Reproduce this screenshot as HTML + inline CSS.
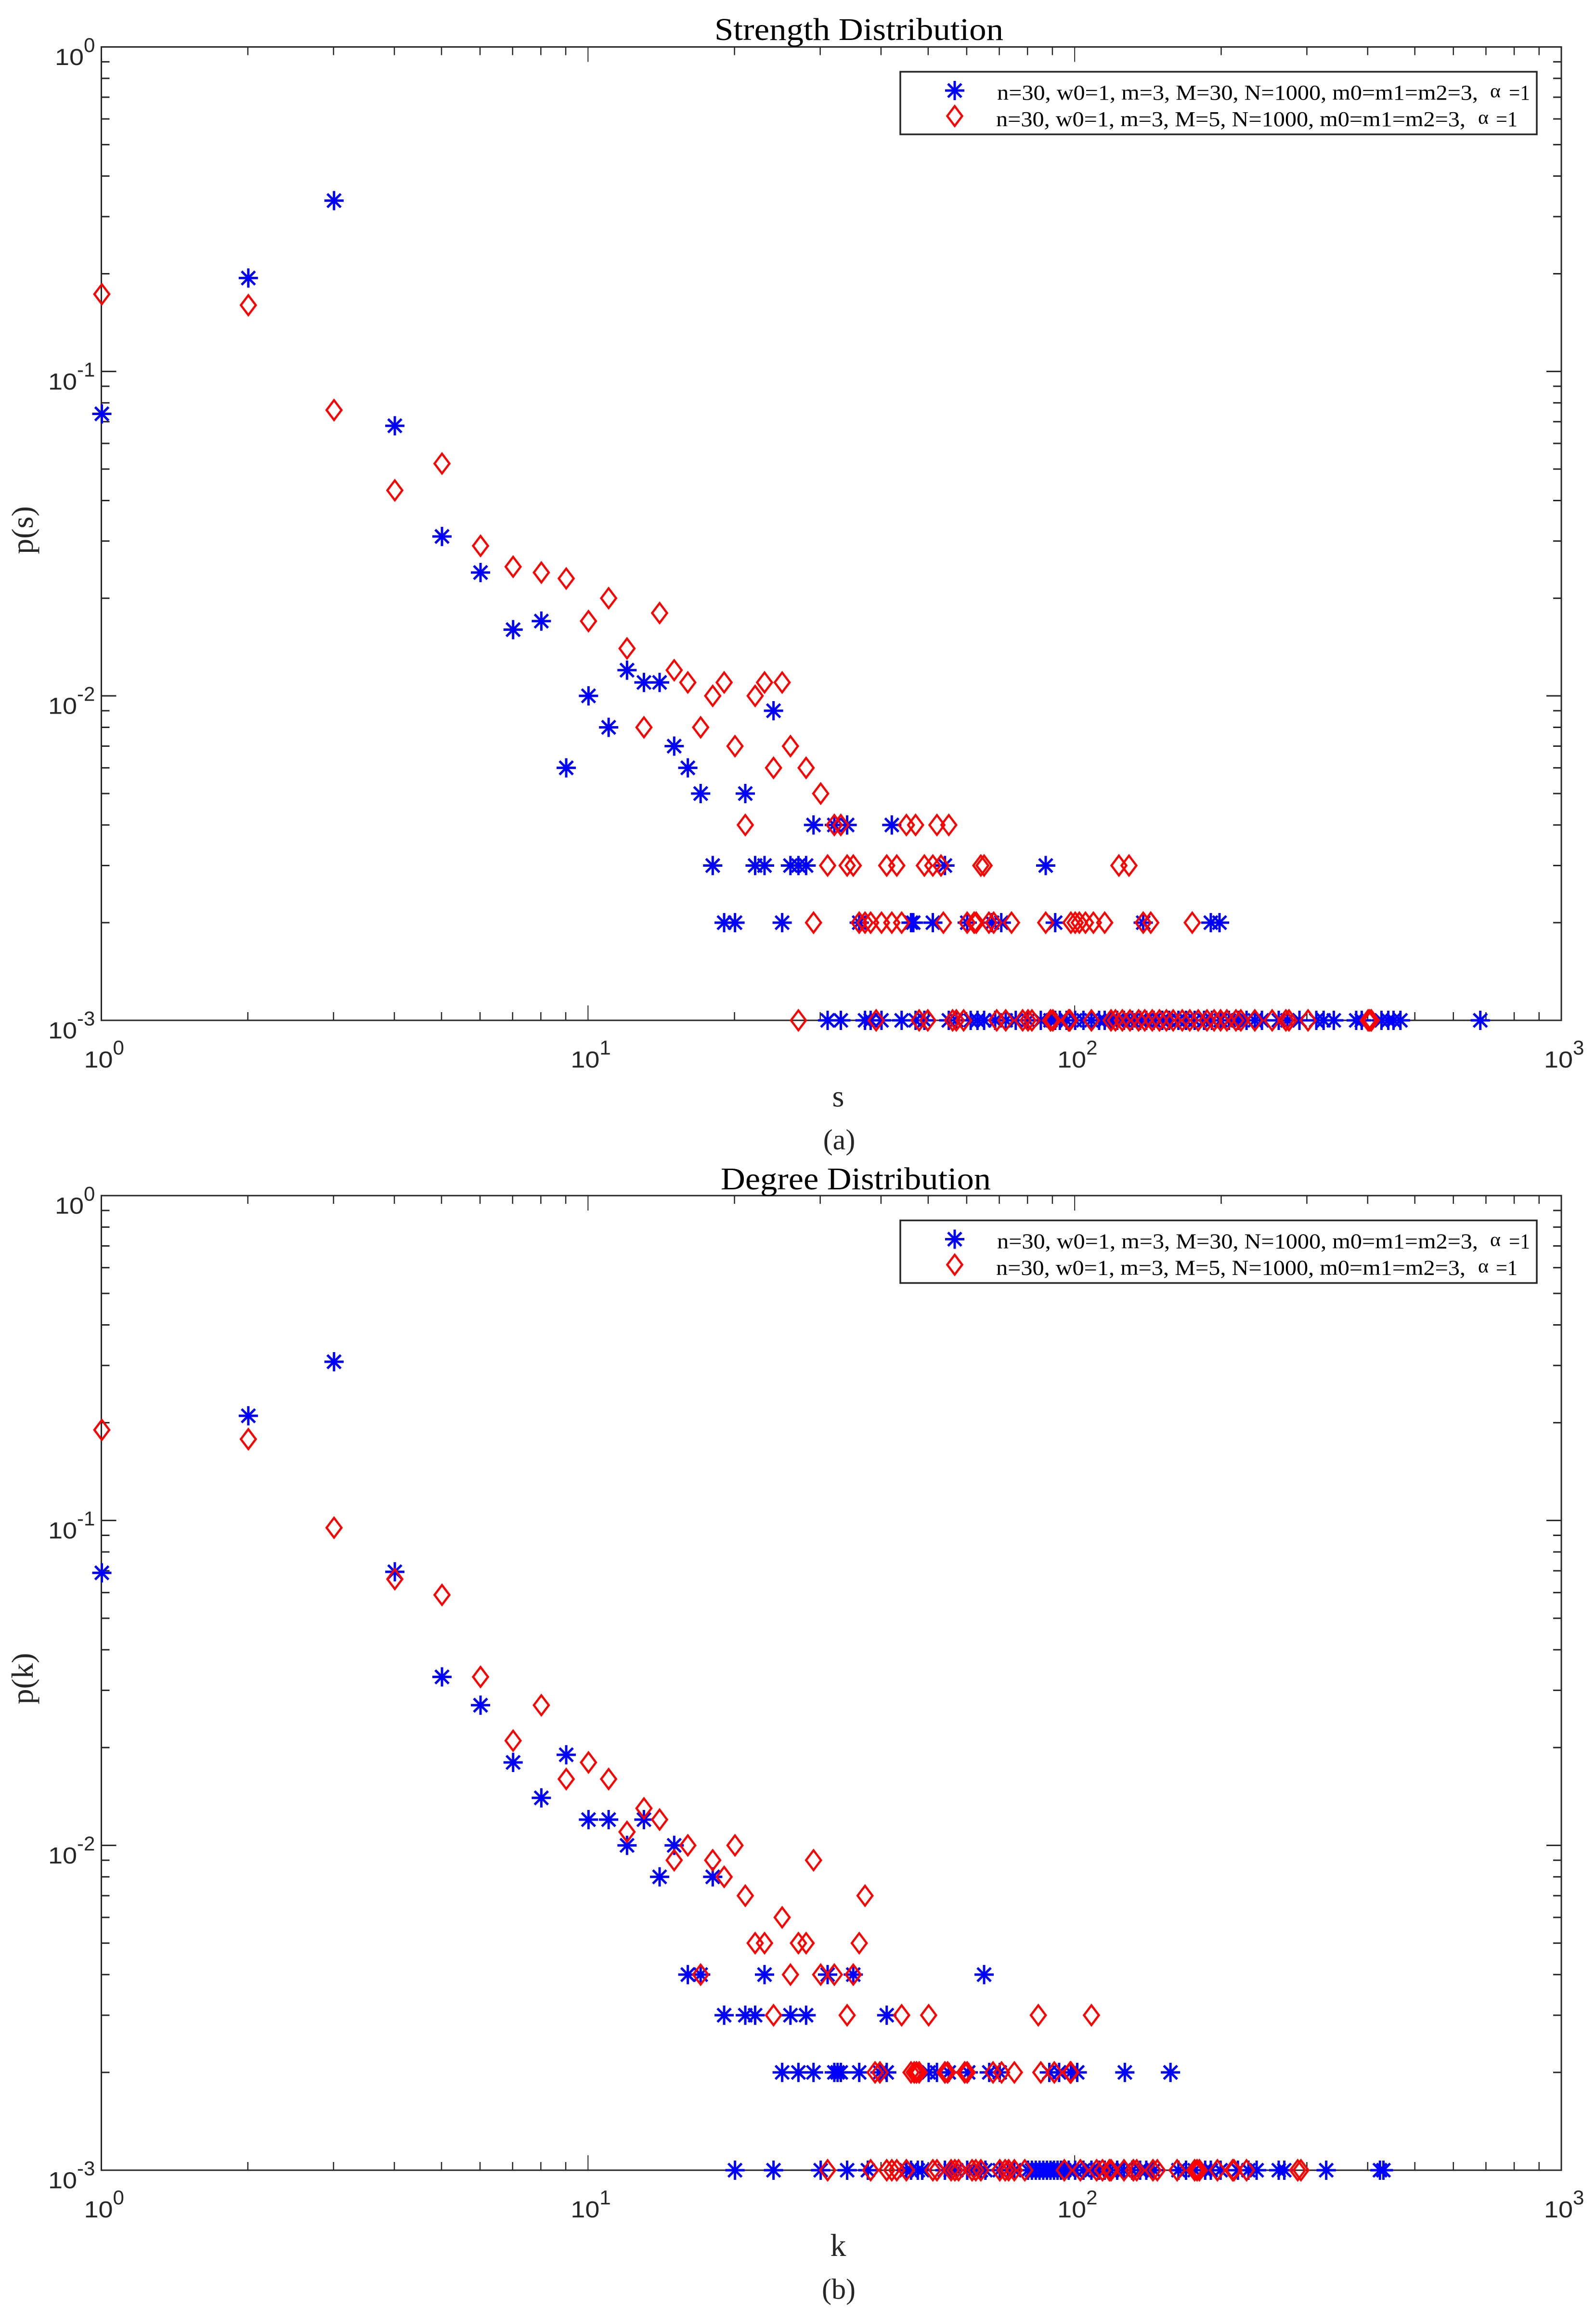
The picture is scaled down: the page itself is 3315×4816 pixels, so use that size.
<!DOCTYPE html>
<html lang="en">
<head>
<meta charset="utf-8">
<title>Strength and Degree Distribution</title>
<style>
html,body{margin:0;padding:0;background:#fff;}
svg{display:block;}
.serif{font-family:"Liberation Serif","Noto Serif CJK SC",serif;}
.sans{font-family:"Liberation Sans","Noto Sans CJK SC",sans-serif;}
</style>
</head>
<body>
<svg id="figure" xmlns="http://www.w3.org/2000/svg" width="3315" height="4816" viewBox="0 0 3315 4816">
  <rect x="0" y="0" width="3315" height="4816" fill="#fff"/>

  <rect x="210.5" y="97.5" width="3032.5" height="2021.5" fill="none" stroke="#262626" stroke-width="3"/>
  <rect x="210.5" y="2483" width="3032.5" height="2024" fill="none" stroke="#262626" stroke-width="3"/>
  <g id="ticks"></g>
  <g id="tickLabels"></g>
  <g id="marks"></g>

  <text class="serif" x="1484" y="83" font-size="66" fill="#000" textLength="600" lengthAdjust="spacingAndGlyphs">Strength Distribution</text>
  <text class="serif" transform="translate(68,1101) rotate(-90)" text-anchor="middle" font-size="64" fill="#262626">p(s)</text>
  <text class="serif" x="1741" y="2298" text-anchor="middle" font-size="64" fill="#262626">s</text>
  <text class="serif" x="1743" y="2387" text-anchor="middle" font-size="60" fill="#262626">(a)</text>

  <text class="serif" x="1497" y="2470" font-size="66" fill="#000" textLength="561" lengthAdjust="spacingAndGlyphs">Degree Distribution</text>
  <text class="serif" transform="translate(68,3486) rotate(-90)" text-anchor="middle" font-size="64" fill="#262626">p(k)</text>
  <text class="serif" x="1741" y="4685" text-anchor="middle" font-size="66" fill="#262626">k</text>
  <text class="serif" x="1742" y="4774" text-anchor="middle" font-size="60" fill="#262626">(b)</text>

  <g>
    <rect x="1870" y="149" width="1322" height="130" fill="#fff" stroke="#262626" stroke-width="3.5"/>
    <path d="M1963 188H2003M1983 168V208M1969 174L1997 202M1969 202L1997 174" fill="none" stroke="#0000ff" stroke-width="5"/>
    <path d="M1983 220.500L1998.500 241L1983 261.500L1967.500 241Z" fill="none" stroke="#ff0000" stroke-width="4.500"/>
    <text class="serif" x="2071" y="207" font-size="44" fill="#000" textLength="999" lengthAdjust="spacingAndGlyphs">n=30, w0=1, m=3, M=30, N=1000, m0=m1=m2=3,</text>
    <text class="serif" x="3095" y="202" font-size="40" fill="#000" textLength="22" lengthAdjust="spacingAndGlyphs">α</text>
    <text class="serif" x="3134" y="207" font-size="44" fill="#000" textLength="44" lengthAdjust="spacingAndGlyphs">=1</text>
    <text class="serif" x="2069" y="262" font-size="44" fill="#000" textLength="975" lengthAdjust="spacingAndGlyphs">n=30, w0=1, m=3, M=5, N=1000, m0=m1=m2=3,</text>
    <text class="serif" x="3070" y="257" font-size="40" fill="#000" textLength="22" lengthAdjust="spacingAndGlyphs">α</text>
    <text class="serif" x="3107" y="262" font-size="44" fill="#000" textLength="45" lengthAdjust="spacingAndGlyphs">=1</text>
  </g>

  <g transform="translate(0,2385.5)">
    <rect x="1870" y="149" width="1322" height="130" fill="#fff" stroke="#262626" stroke-width="3.5"/>
    <path d="M1963 188H2003M1983 168V208M1969 174L1997 202M1969 202L1997 174" fill="none" stroke="#0000ff" stroke-width="5"/>
    <path d="M1983 220.500L1998.500 241L1983 261.500L1967.500 241Z" fill="none" stroke="#ff0000" stroke-width="4.500"/>
    <text class="serif" x="2071" y="207" font-size="44" fill="#000" textLength="999" lengthAdjust="spacingAndGlyphs">n=30, w0=1, m=3, M=30, N=1000, m0=m1=m2=3,</text>
    <text class="serif" x="3095" y="202" font-size="40" fill="#000" textLength="22" lengthAdjust="spacingAndGlyphs">α</text>
    <text class="serif" x="3134" y="207" font-size="44" fill="#000" textLength="44" lengthAdjust="spacingAndGlyphs">=1</text>
    <text class="serif" x="2069" y="262" font-size="44" fill="#000" textLength="975" lengthAdjust="spacingAndGlyphs">n=30, w0=1, m=3, M=5, N=1000, m0=m1=m2=3,</text>
    <text class="serif" x="3070" y="257" font-size="40" fill="#000" textLength="22" lengthAdjust="spacingAndGlyphs">α</text>
    <text class="serif" x="3107" y="262" font-size="44" fill="#000" textLength="45" lengthAdjust="spacingAndGlyphs">=1</text>
  </g>
</svg>
<script>
// Tick labels (decade exponents)
const xDecades = [0, 1, 2, 3];
const yDecades = [0, -1, -2, -3];

// Shared probability levels for the horizontal rows of points
const rowLevels = [0.004, 0.003, 0.002, 0.001];

// Panel (a) strength, M=30 (blue stars)
const strengthM30Upper = [1,2,3,4,5,6,7,8,9,10,11,12,13,14,15,16,17,21,24];
const strengthM30UpperP = [0.074,0.194,0.336,0.068,0.031,0.024,0.016,0.017,0.006,0.010,0.008,0.012,0.011,0.011,0.007,0.006,0.005,0.005,0.009];
const strengthM30Row004 = [29,32,34,42];
const strengthM30Row003 = [18,22,23,26,27,28,54,87];
const strengthM30Row002 = [19,20,25,36,46,46.5,51,60,67.5,70.5,91,138,190,198];
const strengthM30Row001 = [31,33,37,38,40,44,47,49,55,57,61,63,65,68.5,72,75.5,80,85,89,91,93,96,100,104,108,112,115,118.5,122,126,131,136,140,145,151,156,163,169,176,184,191,199,207,216,225,234,242,262,273,289,313,324,340,378,388,426,440,451,466,680];

// Panel (a) strength, M=5 (red diamonds)
const strengthM5Upper = [1,2,3,4,5,6,7,8,9,10,11,12,13,14,15,16,17,18,19,20,21,22,23,24,25,26,28,30];
const strengthM5UpperP = [0.173,0.160,0.076,0.043,0.052,0.029,0.025,0.024,0.023,0.017,0.020,0.014,0.008,0.018,0.012,0.011,0.008,0.010,0.011,0.007,0.004,0.010,0.011,0.006,0.011,0.007,0.006,0.005];
const strengthM5Row004 = [32,33,45,47,52,55];
const strengthM5Row003 = [31,34,35,41,43,49,51,53,64,65,123,129];
const strengthM5Row002 = [29,36,37,38,40,42,44,53.6,60,62,62.6,66.5,68,74,87,98,100,102,105,109,115,138,143,174];
const strengthM5Row001 = [27,39,47.8,49.8,56,57,59,69,72,78,80,81.5,89,90,97,97.5,108,118.5,121,125,129.6,135,139,144,149,154,159,166,172,179,186.6,193,199,205,214,219,234,254,271,275,301,400,403,406];

// Panel (b) degree, M=30 (blue stars)
const degreeM30Upper = [1,2,3,4,5,6,7,8,9,10,11,12,13,14,15,18];
const degreeM30UpperP = [0.069,0.210,0.308,0.0695,0.033,0.027,0.018,0.014,0.019,0.012,0.012,0.010,0.012,0.008,0.010,0.008];
const degreeM30Row004 = [16,17,23,31,35,65];
const degreeM30Row003 = [19,21,22,26,28,41];
const degreeM30Row002 = [25,27,29,32,32.5,33,36,39.7,41,50,52,55,60.3,66.6,70,88.5,92.7,98,101,126.5,157];
const degreeM30Row001 = [20,24,30,34,37.5,45,46,47.5,48.5,54,55.5,57,60,62,64,65.4,70,72.7,75,80,81.5,83,84.5,86,87.5,89,90.5,92,93.5,95,97,100,104,108,112,115,118,122,126,131,136,140,145,163,169,176,185,190,199,216,227,236,262,269,328,423,430];

// Panel (b) degree, M=5 (red diamonds)
const degreeM5Upper = [1,2,3,4,5,6,7,8,9,10,11,12,13,14,15,16,18,19,20,21,22,23,25,27,28,29,36,37];
const degreeM5UpperP = [0.190,0.178,0.095,0.066,0.059,0.033,0.021,0.027,0.016,0.018,0.016,0.011,0.013,0.012,0.009,0.010,0.009,0.008,0.010,0.007,0.005,0.005,0.006,0.005,0.005,0.009,0.005,0.007];
const degreeM5Row004 = [17,26,30,32,35];
const degreeM5Row003 = [24,34,44,50,84,108];
const degreeM5Row002 = [38.8,39.7,46,46.7,47.2,47.8,54,54.7,59.3,60,67.8,70.6,75,85,90.6,97.7,98];
const degreeM5Row001 = [31,38,41,42,43,45,51,52,55.6,56.6,57.6,61.4,62.5,64,70,71.8,73,75,78.8,95,102.5,110.7,113.8,117.6,118.5,126,131.7,133.8,144.5,147.5,162,176,178,180,196,210.7,212,225,286.6,291];

const SVG_NS = 'http://www.w3.org/2000/svg';
const plotLeft = 210.5, plotRight = 3243, plotDecades = 3;
const panelBoxes = [
  {key: 'strength', top: 97.5, bottom: 2119},
  {key: 'degree', top: 2483, bottom: 4507}
];

function xScale(v) {
  return plotLeft + (Math.log10(v) / plotDecades) * (plotRight - plotLeft);
}
function yScale(box, p) {
  return box.top + (-Math.log10(p) / plotDecades) * (box.bottom - box.top);
}

function addTick(parent, x1, y1, x2, y2, w, name) {
  const el = document.createElementNS(SVG_NS, 'line');
  el.setAttribute('x1', x1);
  el.setAttribute('y1', y1);
  el.setAttribute('x2', x2);
  el.setAttribute('y2', y2);
  el.setAttribute('stroke', '#262626');
  el.setAttribute('stroke-width', w);
  
  
  parent.appendChild(el);
}

function addTickLabel(parent, rightEdge, leftEdge, baseline, exponent, name) {
  const sup = String(exponent);
  const supWidth = sup.length > 1 ? 37 : 23;
  const mainX = rightEdge !== null ? rightEdge - supWidth - 60 : leftEdge;
  const main = document.createElementNS(SVG_NS, 'text');
  main.setAttribute('class', 'sans');
  main.setAttribute('x', mainX);
  main.setAttribute('y', baseline);
  main.setAttribute('font-size', '48');
  main.setAttribute('fill', '#262626');
  main.setAttribute('textLength', '60');
  main.setAttribute('lengthAdjust', 'spacingAndGlyphs');
  main.textContent = '10';
  
  
  parent.appendChild(main);
  const exp = document.createElementNS(SVG_NS, 'text');
  exp.setAttribute('class', 'sans');
  exp.setAttribute('x', mainX + 60);
  exp.setAttribute('y', baseline - 27);
  exp.setAttribute('font-size', '42');
  exp.setAttribute('fill', '#262626');
  exp.textContent = sup;
  
  
  parent.appendChild(exp);
}

function drawAxes(box) {
  const tg = document.getElementById('ticks');
  const lg = document.getElementById('tickLabels');
  const majorLen = 31, minorLen = 17;
  for (let i = 0; i < xDecades.length; i++) {
    const base = Math.pow(10, xDecades[i]);
    const px = xScale(base);
    if (i > 0 && i < xDecades.length - 1) {
      addTick(tg, px, box.bottom, px, box.bottom - majorLen, 2, box.key + '-x-major-tick-bottom');
      addTick(tg, px, box.top, px, box.top + majorLen, 2, box.key + '-x-major-tick-top');
    }
    if (i < xDecades.length - 1) {
      for (let m = 2; m < 10; m++) {
        const mx = xScale(base * m);
        addTick(tg, mx, box.bottom, mx, box.bottom - minorLen, 2.5, box.key + '-x-minor-tick-bottom');
        addTick(tg, mx, box.top, mx, box.top + minorLen, 2.5, box.key + '-x-minor-tick-top');
      }
    }
    addTickLabel(lg, null, px - 36, box.bottom + 98, xDecades[i], box.key + '-x-tick-label');
  }
  for (let i = 0; i < yDecades.length; i++) {
    const base = Math.pow(10, yDecades[i]);
    const py = yScale(box, base);
    if (i > 0 && i < yDecades.length - 1) {
      addTick(tg, plotLeft, py, plotLeft + majorLen, py, 3, box.key + '-y-major-tick-left');
      addTick(tg, plotRight, py, plotRight - majorLen, py, 3, box.key + '-y-major-tick-right');
    }
    if (i > 0) {
      for (let m = 2; m < 10; m++) {
        const my = yScale(box, base * m);
        addTick(tg, plotLeft, my, plotLeft + minorLen, my, 3, box.key + '-y-minor-tick-left');
        addTick(tg, plotRight, my, plotRight - minorLen, my, 3, box.key + '-y-minor-tick-right');
      }
    }
    addTickLabel(lg, 197, null, py + 37.5, yDecades[i], box.key + '-y-tick-label');
  }
}

function addStar(parent, box, v, p, name) {
  const cx = xScale(v) + 1, cy = yScale(box, p);
  const el = document.createElementNS(SVG_NS, 'path');
  el.setAttribute('d',
    'M' + (cx - 20) + ' ' + cy + 'H' + (cx + 20) +
    'M' + cx + ' ' + (cy - 20) + 'V' + (cy + 20) +
    'M' + (cx - 14) + ' ' + (cy - 14) + 'L' + (cx + 14) + ' ' + (cy + 14) +
    'M' + (cx - 14) + ' ' + (cy + 14) + 'L' + (cx + 14) + ' ' + (cy - 14));
  el.setAttribute('fill', 'none');
  el.setAttribute('stroke', '#0000ff');
  el.setAttribute('stroke-width', '5');
  
  
  parent.appendChild(el);
}

function addDiamond(parent, box, v, p, name) {
  const cx = xScale(v) + 1, cy = yScale(box, p);
  const el = document.createElementNS(SVG_NS, 'path');
  el.setAttribute('d',
    'M' + cx + ' ' + (cy - 20.5) + 'L' + (cx + 15.5) + ' ' + cy +
    'L' + cx + ' ' + (cy + 20.5) + 'L' + (cx - 15.5) + ' ' + cy + 'Z');
  el.setAttribute('fill', 'none');
  el.setAttribute('stroke', '#ff0000');
  el.setAttribute('stroke-width', '4.5');
  
  
  parent.appendChild(el);
}

function drawSeries(box, addMark, name, upperX, upperP, rows) {
  const group = document.createElementNS(SVG_NS, 'g');
  
  
  document.getElementById('marks').appendChild(group);
  for (let i = 0; i < upperX.length; i++) {
    addMark(group, box, upperX[i], upperP[i], name + '-point');
  }
  for (let r = 0; r < rows.length; r++) {
    for (let i = 0; i < rows[r].length; i++) {
      addMark(group, box, rows[r][i], rowLevels[r], name + '-point');
    }
  }
}

panelBoxes.forEach(drawAxes);
drawSeries(panelBoxes[0], addStar, 'strength-m30', strengthM30Upper, strengthM30UpperP,
  [strengthM30Row004, strengthM30Row003, strengthM30Row002, strengthM30Row001]);
drawSeries(panelBoxes[0], addDiamond, 'strength-m5', strengthM5Upper, strengthM5UpperP,
  [strengthM5Row004, strengthM5Row003, strengthM5Row002, strengthM5Row001]);
drawSeries(panelBoxes[1], addStar, 'degree-m30', degreeM30Upper, degreeM30UpperP,
  [degreeM30Row004, degreeM30Row003, degreeM30Row002, degreeM30Row001]);
drawSeries(panelBoxes[1], addDiamond, 'degree-m5', degreeM5Upper, degreeM5UpperP,
  [degreeM5Row004, degreeM5Row003, degreeM5Row002, degreeM5Row001]);
</script>
</body>
</html>
